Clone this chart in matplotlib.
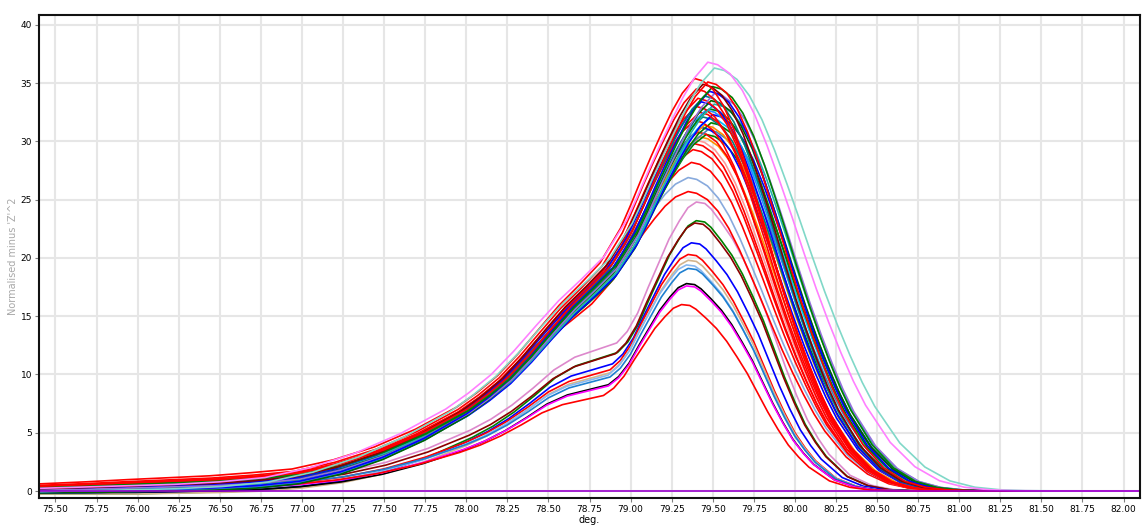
import numpy as np
import matplotlib
matplotlib.use('Agg')
import matplotlib.pyplot as plt

#-------------------------------------------------------------------------------
#DATA

#upper (wild type) melt profile, peak at 79.45
up_x = [75.20, 75.75, 76.00, 76.25, 76.50, 76.75, 77.00, 77.25, 77.50, 77.75,
        78.00, 78.125, 78.25, 78.375, 78.50, 78.625, 78.75, 78.875, 79.00, 79.0625,
        79.125, 79.1875, 79.25, 79.3125, 79.375, 79.45, 79.50, 79.5625, 79.625, 79.6875,
        79.75, 79.8125, 79.875, 79.9375, 80.00, 80.0625, 80.125, 80.1875, 80.25, 80.375,
        80.50, 80.625, 80.75, 80.875, 81.00, 81.25, 81.50, 82.40]
up_y = [0.0, 0.15, 0.25, 0.35, 0.45, 0.65, 1.0, 1.8, 3.0, 4.6,
        6.6, 7.9, 9.4, 11.3, 13.4, 15.4, 17.1, 18.9, 21.7, 23.6,
        25.6, 27.5, 29.3, 31.0, 32.4, 33.5, 33.3, 32.6, 31.3, 29.4,
        27.0, 24.3, 21.5, 18.6, 15.8, 13.2, 10.8, 8.6, 6.7, 3.8,
        1.9, 0.8, 0.3, 0.1, 0.03, 0.0, 0.0, 0.0]
up_c0 = 79.45
#how strongly the peak height carries over to each part of the upper curves
up_pw_pts = [75.2, 78.5, 78.9, 79.3, 79.45]
up_pw = [0.6, 0.6, 0.65, 0.9, 1.0]

#lower (variant) melt profile, peak at 79.35
lo_x = [75.20, 75.75, 76.00, 76.25, 76.50, 76.75, 77.00, 77.25, 77.50, 77.75,
        78.00, 78.125, 78.25, 78.375, 78.50, 78.625, 78.75, 78.875, 78.9375, 79.00,
        79.0625, 79.125, 79.1875, 79.25, 79.30, 79.35, 79.40, 79.4375, 79.50, 79.5625,
        79.625, 79.6875, 79.75, 79.8125, 79.875, 79.9375, 80.00, 80.0625, 80.125, 80.25,
        80.375, 80.50, 80.625, 80.75, 81.00, 82.40]
lo_y = [0.0, 0.1, 0.15, 0.25, 0.35, 0.5, 0.75, 1.2, 1.9, 2.9,
        4.2, 5.0, 6.0, 7.2, 8.5, 9.4, 9.9, 10.4, 11.2, 12.5,
        14.3, 16.0, 17.7, 19.0, 19.9, 20.3, 20.2, 19.8, 18.8, 17.7,
        16.3, 14.6, 12.8, 10.7, 8.6, 6.7, 5.0, 3.7, 2.6, 1.1,
        0.4, 0.1, 0.03, 0.0, 0.0, 0.0]
lo_c0 = 79.35

#how much of the baseline offset is left at each profile point
tail_pts = [75.2, 76.0, 76.75, 77.25, 77.75, 78.25, 78.5]
tail_wts = [0.5, 0.8, 1.0, 0.9, 0.6, 0.2, 0.0]

#samples, upper group
up_peak = [36.8, 36.3, 35.4, 35.1, 34.9, 34.7, 34.5, 34.3, 34.1, 33.9,
           33.7, 33.5, 33.4, 33.2, 33.0, 32.8, 32.7, 32.5, 32.3, 32.1,
           32.0, 31.8, 31.6, 31.4, 31.2, 31.0, 30.8, 30.6, 30.4, 30.1,
           29.8, 29.3, 28.2, 26.9, 25.7]
up_shift = [0.02, 0.06, -0.06, 0.02, -0.01, 0.05, -0.05, 0.03, 0.06, 0.00,
            -0.04, 0.04, -0.02, 0.06, -0.05, 0.03, 0.01, -0.03, 0.05, -0.01,
            0.03, -0.06, 0.04, 0.00, -0.02, 0.02, -0.04, 0.01, -0.03, -0.05,
            -0.06, -0.07, -0.08, -0.10, -0.10]
up_width = [1.20, 1.22, 1.00, 1.02, 1.03, 1.05, 1.00, 1.04, 1.06, 1.02,
            1.00, 1.05, 1.03, 1.06, 1.00, 1.04, 1.02, 1.00, 1.05, 1.03,
            1.04, 1.00, 1.06, 1.02, 1.03, 1.05, 1.00, 1.04, 1.02, 1.00,
            1.00, 1.02, 1.03, 1.05, 1.04]
up_tail = [0.1, -0.3, 0.9, 0.6, 0.2, 0.4, 0.7, -0.2, 0.0, 0.3,
           0.5, -0.4, 0.1, 0.3, 0.6, 0.0, -0.3, 0.4, 0.1, 0.2,
           -0.1, 0.5, 0.2, -0.2, -0.4, 0.1, 0.3, 0.2, -0.1, 0.0,
           0.3, 0.1, -0.1, -0.3, 0.0]
up_color = ['#ff80ff', '#80d8c8', '#ff0000', '#ff0000', '#800000', '#008000', '#ff0000', '#0000ff', '#9370db', '#008080',
            '#ff0000', '#006400', '#0000ff', '#20b2aa', '#ff0000', '#008000', '#1e90ff', '#ff0000', '#0000ff', '#008080',
            '#00bfff', '#ff0000', '#008000', '#ff8c00', '#0000ff', '#4682b4', '#ff0000', '#008000', '#ff8c00', '#ff9999',
            '#ff0000', '#ff0000', '#ff0000', '#88aadd', '#ff0000']

#samples, lower group
lo_peak = [24.8, 23.2, 23.0, 21.3, 20.3, 19.8, 19.4, 19.1, 17.8, 17.6, 16.0]
lo_shift = [0.05, 0.05, 0.04, 0.02, 0.00, 0.00, -0.01, 0.00, -0.01, -0.01, -0.04]
lo_width = [1.04, 1.02, 1.03, 1.02, 1.00, 1.00, 1.01, 1.00, 1.00, 1.00, 1.00]
lo_tail = [0.2, -0.5, 0.1, -0.4, 0.0, -0.5, -0.2, 0.1, -0.3, -0.1, 0.0]
lo_color = ['#dd88cc', '#008000', '#8b0000', '#0000ff', '#ff0000', '#d2b48c', '#87b8f0', '#1e7fd0', '#000000', '#ff00ff', '#ff0000']

#-------------------------------------------------------------------------------
#FUNCTIONS

def melt_curve(ax, px, py, c0, pw_pts, pw, peak, shift, width, tail, color):
    px = np.asarray(px)
    py = np.asarray(py)
    #stretch mostly the falling side
    w = np.where(px > c0, width, 1 + (width - 1)*0.5)
    x = c0 + shift + (px - c0)*w
    scale = 1 + (peak/py.max() - 1)*np.interp(px, pw_pts, pw)
    y = py*scale + tail*np.interp(px, tail_pts, tail_wts)
    ax.plot(x, y, color=color, lw=1.2)

#-------------------------------------------------------------------------------
#MAIN

fig = plt.figure(figsize=(11.42, 5.29), dpi=100)
ax = fig.add_axes([39/1142, 31/529, 1101/1142, 483/529])

for i in range(len(lo_peak)):
    melt_curve(ax, lo_x, lo_y, lo_c0, [75.0], [1.0], lo_peak[i], lo_shift[i],
               lo_width[i], lo_tail[i], lo_color[i])
for i in range(len(up_peak))[::-1]:
    melt_curve(ax, up_x, up_y, up_c0, up_pw_pts, up_pw, up_peak[i], up_shift[i],
               up_width[i], up_tail[i], up_color[i])

#zero line
ax.plot([75.4, 82.1], [0, 0], color='#9900cc', lw=1.2)

ax.set_xlim(75.40, 82.10)
ax.set_ylim(-0.6, 40.85)
ax.set_xticks(np.arange(75.5, 82.01, 0.25))
ax.set_xticklabels(['%.2f' % v for v in np.arange(75.5, 82.01, 0.25)])
ax.set_yticks(np.arange(0, 41, 5))
ax.tick_params(labelsize=6.5, length=3, width=0.8, color='#808080', pad=2)
ax.grid(True, color='#e6e6e6', lw=1.5)
ax.set_axisbelow(True)
for s in ax.spines.values():
    s.set_linewidth(1.5)
    s.set_color('#111111')
ax.set_xlabel('deg.', fontsize=7, labelpad=1)
ax.set_ylabel("Normalised minus 'Z'^2", fontsize=7, color='#a8a8a8', labelpad=2)

fig.savefig('out.png', dpi=100)
